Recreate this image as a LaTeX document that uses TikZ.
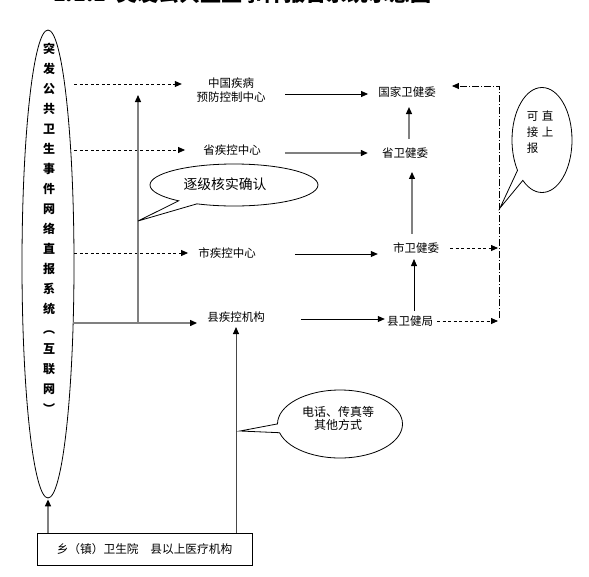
\documentclass[tikz,border=0pt]{standalone}
\usepackage{fontspec}
\setmainfont{Noto Sans CJK SC}
\usetikzlibrary{arrows.meta,shapes.geometric,shapes.callouts}
\definecolor{lgray}{RGB}{128,128,128}
\definecolor{dgray}{RGB}{70,70,70}
\begin{document}
\begin{tikzpicture}[x=1pt,y=-1pt,
  txt/.style={inner sep=0pt, font=\fontsize{11.5}{14}\selectfont, align=center},
  arr/.style={-{Triangle[length=7pt,width=6pt,color=black,fill=black]}},
  bl/.style={draw=black, line width=0.8pt},
  gl/.style={draw=lgray, line width=1.3pt},
  dl/.style={draw=dgray, line width=1pt},
  dsh/.style={draw=black, line width=0.8pt, dash pattern=on 3pt off 2.5pt},
  dd/.style={draw=black, line width=0.8pt, dash pattern=on 7pt off 2pt on 1pt off 2pt},
  bubble/.style={ellipse callout, draw=black, line width=0.8pt, inner sep=0pt, fill=white}
]
\useasboundingbox (0,0) rectangle (589,576);

% title (cropped at top)
\node[anchor=base west, inner sep=0pt, font=\bfseries\fontsize{21}{21}\selectfont] (title) at (53,1.5)
  {\makebox[63pt][l]{1.1.1}突发公共卫生事件报告系统示意图};

% big ellipse
\node[draw, ellipse, line width=0.8pt, minimum width=52pt, minimum height=468pt, inner sep=0pt] (sys) at (48,264) {};
\node[inner sep=0pt, align=center, font=\bfseries\fontsize{12}{20}\selectfont] (systxt) at (49,228)
  {突\\发\\公\\共\\卫\\生\\事\\件\\网\\络\\直\\报\\系\\统\\︵\\互\\联\\网\\︶};

% text nodes
\node[txt] (cdc) at (231,90) {中国疾病\\预防控制中心};
\node[txt] (nhc) at (407,92) {国家卫健委};
\node[txt] (pcdc) at (232,150) {省疾控中心};
\node[txt] (phc) at (405,153) {省卫健委};
\node[txt] (ccdc) at (227,253) {市疾控中心};
\node[txt] (chc) at (416,248) {市卫健委};
\node[txt] (xcdc) at (236,317) {县疾控机构};
\node[txt] (xhc) at (410,321) {县卫健局};

% bottom box
\node[draw, line width=0.8pt, minimum width=215pt, minimum height=32pt, inner sep=0pt,
  font=\fontsize{11.7}{14}\selectfont] (box) at (144.5,549) {乡（镇）卫生院　县以上医疗机构};

% dashed arrows from the ellipse
\coordinate (e1) at ([xshift=-14.5pt,yshift=6pt]cdc.west);
\draw[dsh,arr] (sys.east |- e1) -- (e1);
\coordinate (e2) at ([xshift=-18pt]pcdc.west);
\draw[dsh,arr] (sys.east |- e2) -- (e2);
\coordinate (e3) at ([xshift=-10pt]ccdc.west);
\draw[dsh,arr] (sys.east |- e3) -- (e3);

% solid gray arrow to county CDC
\coordinate (e4) at ([xshift=-10pt,yshift=-6pt]xcdc.west);
\draw[gl,arr] ([xshift=-1pt]sys.east |- e4) -- (e4);
% vertical gray arrow
\coordinate (vtop) at (138,95);
\draw[gl,arr] (vtop |- e4) -- (vtop);

% horizontal arrows to health commissions
\draw[bl,arr] ([xshift=19.5pt,yshift=-4pt]cdc.east) -- ([xshift=-10pt,yshift=-2pt]nhc.west);
\draw[gl,arr] ([xshift=24pt,yshift=-3pt]pcdc.east) -- ([xshift=-14pt]phc.west);
\draw[bl,arr] ([xshift=39pt,yshift=-1pt]ccdc.east) -- ([xshift=-15pt,yshift=-6pt]chc.west);
\draw[bl,arr] ([xshift=36pt,yshift=-2pt]xcdc.east) -- ([xshift=-2pt,yshift=2pt]xhc.west);

% vertical arrows between commissions
\draw[gl,arr] ([xshift=4pt,yshift=8.5pt]phc.north) -- ([xshift=2pt,yshift=-9.5pt]nhc.south);
\draw[gl,arr] ([xshift=-4pt,yshift=8.5pt]chc.north) -- ([xshift=7pt,yshift=-13.5pt]phc.south);
\draw[bl,arr] ([xshift=4pt,yshift=4.5pt]xhc.north) -- ([xshift=-2pt,yshift=-5.5pt]chc.south);

% right dash-dot bypass
\coordinate (rt) at (499,86);
\coordinate (rb) at (499,318);
\draw[dd,arr] (rb) -- (rt) -- ([xshift=16pt,yshift=6pt]nhc.east);
\draw[dsh,arr] ([xshift=11pt]chc.east) -- ([xshift=-1pt]rt |- chc.east);
\draw[dsh,arr] ([xshift=4pt]xhc.east) -- ([xshift=-1pt]rt |- xhc.east);

% bottom arrows
\draw[gl,arr] (sys.south |- box.north) -- ([yshift=-1pt]sys.south);
\draw[dl,arr] (xcdc.south |- box.north) -- ([yshift=-4.5pt]xcdc.south);

% callouts
\node[bubble, minimum width=168pt, minimum height=42pt, callout absolute pointer={(138,221)}] (verify) at (234,185) {};
\node[inner sep=0pt, font=\fontsize{13.8}{16}\selectfont] (verifytxt) at (225,184) {逐级核实确认};

\node[bubble, minimum width=125pt, minimum height=68pt, callout absolute pointer={(240,431)}] (phone) at (340,424) {};
\node[inner sep=0pt, align=center, font=\fontsize{12}{13.5}\selectfont] (phonetxt) at (338,418.5) {电话、传真等\\其他方式};

\node[bubble, minimum width=60pt, minimum height=105pt, callout absolute pointer={(500,208)}] (direct) at (542,140) {};
\node[inner sep=0pt, align=left, font=\fontsize{11.5}{16}\selectfont] (directtxt) at (540,132) {可\hspace{3.5pt}直\\接\hspace{3.5pt}上\\报};
\end{tikzpicture}
\end{document}
